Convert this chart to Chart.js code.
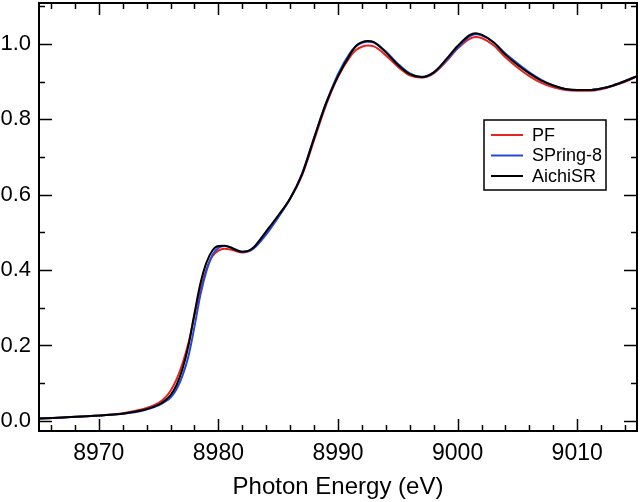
<!DOCTYPE html>
<html>
<head>
<meta charset="utf-8">
<script src="https://cdn.jsdelivr.net/npm/chart.js@4.4.0/dist/chart.umd.min.js"></script>
<style>
  html, body { margin: 0; padding: 0; background: #fff; }
  #wrap { width: 640px; height: 502px; position: relative; }
</style>
</head>
<body>
<div id="wrap"><canvas id="xanes"></canvas></div>
<script>
// photon energy (eV)
const energy = [
  8965, 8967, 8969, 8971, 8972, 8973, 8974, 8975, 8975.5, 8976,
  8976.5, 8977, 8977.5, 8978, 8978.5, 8979, 8979.5, 8980, 8980.5, 8981,
  8981.5, 8982, 8982.5, 8983, 8984, 8985, 8986, 8987, 8988, 8989,
  8990, 8991, 8991.5, 8992, 8992.5, 8993, 8994, 8995, 8996, 8997,
  8998, 8999, 9000, 9001, 9001.5, 9002, 9003, 9004, 9005, 9006,
  9007, 9008, 9009, 9010, 9011, 9012, 9013, 9014, 9015
];

const pf = [
  0.006, 0.009, 0.012, 0.017, 0.020, 0.026, 0.034, 0.048, 0.060, 0.080,
  0.110, 0.152, 0.207, 0.280, 0.348, 0.402, 0.437, 0.452, 0.457, 0.455,
  0.450, 0.447, 0.450, 0.460, 0.498, 0.542, 0.590, 0.652, 0.745, 0.838,
  0.913, 0.966, 0.984, 0.993, 0.996, 0.994, 0.970, 0.940, 0.917, 0.911,
  0.922, 0.952, 0.988, 1.014, 1.019, 1.016, 0.997, 0.965, 0.938, 0.915,
  0.897, 0.885, 0.878, 0.876, 0.876, 0.880, 0.889, 0.900, 0.914
];

const spring8 = [
  0.006, 0.009, 0.012, 0.016, 0.019, 0.023, 0.030, 0.041, 0.050, 0.062,
  0.084, 0.120, 0.172, 0.250, 0.335, 0.398, 0.440, 0.459, 0.464, 0.461,
  0.454, 0.449, 0.450, 0.459, 0.495, 0.540, 0.590, 0.657, 0.752, 0.843,
  0.920, 0.976, 0.994, 1.003, 1.006, 1.004, 0.980, 0.948, 0.922, 0.913,
  0.924, 0.955, 0.990, 1.020, 1.026, 1.023, 1.005, 0.975, 0.949, 0.925,
  0.905, 0.890, 0.881, 0.878, 0.878, 0.882, 0.890, 0.902, 0.915
];

const aichiSR = [
  0.006, 0.009, 0.012, 0.016, 0.019, 0.024, 0.031, 0.043, 0.053, 0.068,
  0.095, 0.138, 0.200, 0.285, 0.365, 0.420, 0.452, 0.464, 0.465, 0.460,
  0.453, 0.449, 0.451, 0.462, 0.503, 0.545, 0.590, 0.655, 0.750, 0.843,
  0.915, 0.972, 0.995, 1.005, 1.008, 1.005, 0.978, 0.945, 0.920, 0.912,
  0.925, 0.958, 0.995, 1.024, 1.029, 1.025, 1.005, 0.972, 0.945, 0.922,
  0.903, 0.890, 0.881, 0.878, 0.878, 0.882, 0.890, 0.902, 0.915
];

const seriesNames = ['PF', 'SPring-8', 'AichiSR'];
const seriesColors = ['#e8221e', '#2548d8', '#000000'];
const xTickLabels = [8970, 8980, 8990, 9000, 9010];
const yTickLabels = [0.0, 0.2, 0.4, 0.6, 0.8, 1.0];

const FONT = '"Liberation Sans", Arial, Helvetica, sans-serif';

const toPoints = vals => vals.map((v, i) => ({ x: energy[i], y: v }));

// frame with inward ticks on all four sides + boxed legend
const framePlugin = {
  id: 'frame',
  afterDraw(chart) {
    const { ctx, chartArea: a, scales } = chart;
    const xs = scales.x, ys = scales.y;
    ctx.save();
    ctx.strokeStyle = '#000';
    ctx.lineWidth = 2;
    ctx.strokeRect(a.left, a.top, a.right - a.left, a.bottom - a.top);

    ctx.lineWidth = 1.5;
    ctx.beginPath();
    for (let e = 8966; e <= 9014; e += 2) {
      const px = Math.round(xs.getPixelForValue(e)) + 0.5;
      const len = e % 10 === 0 ? 12 : 6;
      ctx.moveTo(px, a.bottom); ctx.lineTo(px, a.bottom - len);
      ctx.moveTo(px, a.top); ctx.lineTo(px, a.top + len);
    }
    for (let k = 0; k <= 11; k++) {
      const v = k / 10;
      const py = Math.round(ys.getPixelForValue(v)) + 0.5;
      const len = k % 2 === 0 ? 13 : 6;
      ctx.moveTo(a.left, py); ctx.lineTo(a.left + len, py);
      ctx.moveTo(a.right, py); ctx.lineTo(a.right - len, py);
    }
    ctx.stroke();

    // legend
    const bx = 484, by = 120, bw = 122, bh = 70;
    ctx.fillStyle = '#fff';
    ctx.fillRect(bx, by, bw, bh);
    ctx.lineWidth = 1.5;
    ctx.strokeRect(bx, by, bw, bh);
    ctx.font = '18px ' + FONT;
    ctx.textBaseline = 'middle';
    ctx.textAlign = 'left';
    seriesNames.forEach((name, i) => {
      const y = by + 15 + i * 20.5;
      ctx.strokeStyle = seriesColors[i];
      ctx.lineWidth = 2;
      ctx.beginPath();
      ctx.moveTo(bx + 7, y); ctx.lineTo(bx + 39, y);
      ctx.stroke();
      ctx.fillStyle = '#000';
      ctx.fillText(name, bx + 48, y + 1);
    });
    ctx.restore();
  }
};

new Chart(document.getElementById('xanes'), {
  type: 'line',
  data: {
    datasets: [
      { label: seriesNames[0], data: toPoints(pf), borderColor: seriesColors[0], order: 2 },
      { label: seriesNames[1], data: toPoints(spring8), borderColor: seriesColors[1], order: 1 },
      { label: seriesNames[2], data: toPoints(aichiSR), borderColor: seriesColors[2], order: 0 }
    ]
  },
  options: {
    responsive: true,
    maintainAspectRatio: false,
    animation: false,
    devicePixelRatio: 1,
    layout: { padding: { top: 3, right: 3, left: 0, bottom: 0 } },
    elements: {
      point: { radius: 0 },
      line: { borderWidth: 2, cubicInterpolationMode: 'monotone' }
    },
    plugins: {
      legend: { display: false },
      tooltip: { enabled: false }
    },
    scales: {
      x: {
        type: 'linear',
        min: 8965,
        max: 9015,
        grid: { display: false, drawTicks: false },
        border: { display: false },
        afterBuildTicks: s => { s.ticks = xTickLabels.map(v => ({ value: v })); },
        afterFit: s => { s.height = 71; s.paddingLeft = 0; s.paddingRight = 0; },
        ticks: {
          font: { family: FONT, size: 23 },
          color: '#000',
          padding: 9,
          maxRotation: 0,
          callback: v => String(v)
        },
        title: {
          display: true,
          text: 'Photon Energy (eV)',
          font: { family: FONT, size: 24 },
          color: '#000',
          padding: { top: 2, bottom: 0 }
        }
      },
      y: {
        min: -0.027,
        max: 1.109,
        grid: { display: false, drawTicks: false },
        border: { display: false },
        afterBuildTicks: s => { s.ticks = yTickLabels.map(v => ({ value: v })); },
        afterFit: s => { s.width = 39; s.paddingTop = 0; s.paddingBottom = 0; },
        ticks: {
          font: { family: FONT, size: 22 },
          color: '#000',
          padding: 8,
          callback: v => v.toFixed(1)
        }
      }
    }
  },
  plugins: [framePlugin]
});
</script>
</body>
</html>
